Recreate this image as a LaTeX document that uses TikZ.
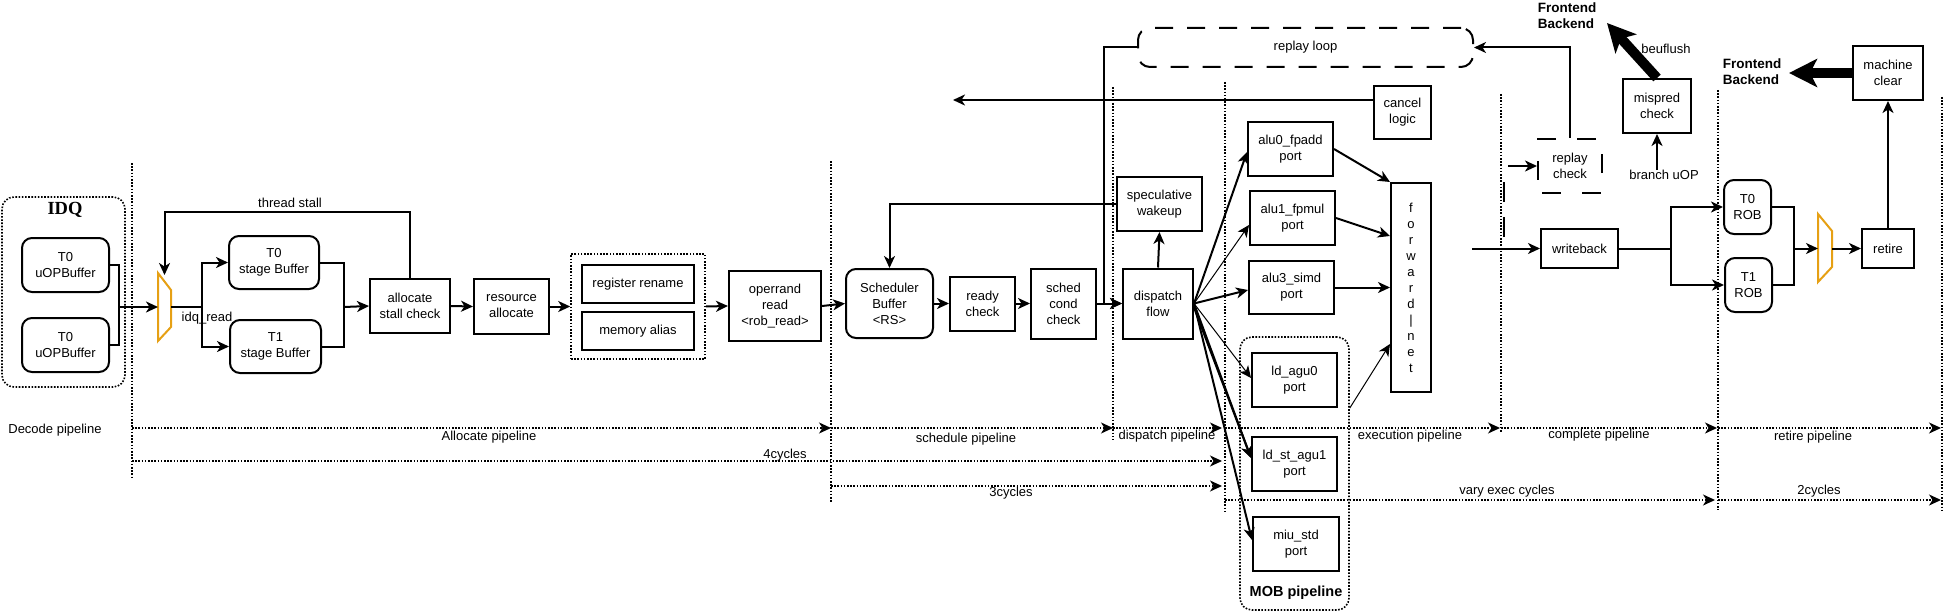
\documentclass[tikz,border=0pt]{standalone}
\usepackage{fontspec}
\setmainfont{Liberation Sans}
\newfontfamily\idqfont{Liberation Serif}
\usetikzlibrary{arrows.meta}

\definecolor{muxorange}{RGB}{230,160,20}

\tikzset{
  box/.style={draw,line width=2pt,inner sep=1pt,align=center,font=\fontsize{13}{16}\selectfont},
  rbox/.style={box,rounded corners=10pt},
  txt/.style={inner sep=0pt,align=center,font=\fontsize{13}{16}\selectfont},
  bold/.style={inner sep=0pt,align=left,font=\bfseries\fontsize{13.5}{16}\selectfont},
  grp/.style={draw,line width=1.6pt,dash pattern=on 1.6pt off 1.6pt,rounded corners=12pt},
  grpsq/.style={draw,line width=1.6pt,dash pattern=on 1.6pt off 1.6pt},
  dotline/.style={line width=1.6pt,dash pattern=on 1.6pt off 1.6pt},
  loopbox/.style={box,rounded corners=12pt,dash pattern=on 18pt off 14pt},
  chkbox/.style={box,dash pattern=on 19pt off 21pt,dash phase=-4pt},
  wire/.style={line width=2pt},
  arr/.style={wire,-{Stealth[length=12pt,width=11pt,inset=3.5pt]}},
  arrthin/.style={line width=1pt,-{Stealth[length=12pt,width=11pt,inset=3.5pt]}},
  pipe/.style={dotline,-{Stealth[length=12pt,width=11pt,inset=3.5pt]}},
  bigarr/.style={line width=10pt,-{Stealth[length=28pt,width=28pt,inset=7pt]}},
  mux/.style={draw=muxorange,line width=2pt},
}

\begin{document}
\begin{tikzpicture}[x=1pt,y=-1pt]
            \useasboundingbox (0,0) rectangle (1943,615);

            \draw[dotline] (132,163) -- (132,477);
            \draw[dotline] (831,161) -- (831,502);
            \draw[dotline] (1113,87) -- (1113,440);
            \draw[dotline] (1225,82) -- (1225,513);
            \draw[dotline] (1501,94) -- (1501,433);
            \draw[dotline] (1718,90) -- (1718,510);
            \draw[dotline] (1942,97) -- (1942,510);

            \node (idq) at (63.5,292) [grp,minimum width=123pt,minimum height=190pt] {};
            \node (idqlabel) at (65,210) [font={\idqfont\bfseries\fontsize{18.5}{20}\selectfont}] {IDQ};
            \node (uop0) at (65.5,265) [rbox,minimum width=87pt,minimum height=54pt] {T0\\uOPBuffer};
            \node (uop1) at (65.5,345) [rbox,minimum width=87pt,minimum height=54pt] {T0\\uOPBuffer};
            \coordinate (j1) at (119,307);

            \coordinate (mux1) at (164.5,307);
            \draw[mux] (158,273) -- (171,290) -- (171,327) -- (158,341) -- cycle;
            \coordinate (j2) at (202,307);
            \node (idqread) at (207,318) [txt] {idq\_read};

            \node (sb0) at (274,262.5) [rbox,minimum width=90pt,minimum height=53pt] {T0\\stage Buffer};
            \node (sb1) at (275.5,346.5) [rbox,minimum width=91pt,minimum height=53pt] {T1\\stage Buffer};
            \coordinate (j3) at (344,307);
            \node (alloc) at (410,306) [box,minimum width=80pt,minimum height=54pt] {allocate\\stall check};
            \node (stall) at (290,203) [txt] {thread stall};
            \node (res) at (511.5,306.5) [box,minimum width=75pt,minimum height=55pt] {resource\\allocate};
            \node (ren) at (638,306.5) [grpsq,minimum width=134pt,minimum height=105pt] {};
            \node (rename) at (638,284) [box,minimum width=112pt,minimum height=38pt] {register rename};
            \node (alias) at (638,331) [box,minimum width=112pt,minimum height=38pt] {memory alias};
            \node (oprd) at (775,306) [box,minimum width=92pt,minimum height=70pt] {operrand\\read\\<rob\_read>};

            \node (sched) at (889.5,303.5) [rbox,minimum width=87pt,minimum height=69pt] {Scheduler\\Buffer\\<RS>};
            \node (ready) at (982.5,303.5) [box,minimum width=65pt,minimum height=54pt] {ready\\check};
            \node (cond) at (1063.5,303.5) [box,minimum width=65pt,minimum height=70pt] {sched\\cond\\check};
            \node (disp) at (1158,303.5) [box,minimum width=70pt,minimum height=70pt] {dispatch\\flow};
            \node (spec) at (1159.5,204) [box,minimum width=85pt,minimum height=54pt] {speculative\\wakeup};
            \node (replay) at (1305.5,47.5) [loopbox,minimum width=335pt,minimum height=39pt] {replay loop};
            \node (cancel) at (1402.5,112.5) [box,minimum width=57pt,minimum height=53pt] {cancel\\logic};
            \coordinate (cancelend) at (953,100);
            \coordinate (jr) at (1104,303.5);

            \node (alu0) at (1290.5,149) [box,minimum width=85pt,minimum height=54pt] {alu0\_fpadd\\port};
            \node (alu1) at (1292.5,218) [box,minimum width=85pt,minimum height=54pt] {alu1\_fpmul\\port};
            \node (alu3) at (1291.5,287.5) [box,minimum width=85pt,minimum height=53pt] {alu3\_simd\\port};
            \node (mob) at (1294.5,473.5) [grp,minimum width=109pt,minimum height=273pt] {};
            \node (moblabel) at (1296,593) [font=\bfseries\fontsize{14.5}{16}\selectfont] {MOB pipeline};
            \node (ldagu0) at (1294.5,380) [box,minimum width=85pt,minimum height=54pt] {ld\_agu0\\port};
            \node (ldst) at (1294.5,464) [box,minimum width=85pt,minimum height=54pt] {ld\_st\_agu1\\port};
            \node (miustd) at (1296,544) [box,minimum width=86pt,minimum height=54pt] {miu\_std\\port};
            \node (fwd) at (1411,287.5) [box,minimum width=40pt,minimum height=209pt] {f\\o\\r\\w\\a\\r\\d\\|\\n\\e\\t};

            \node (rchk) at (1570,166) [chkbox,minimum width=64pt,minimum height=54pt] {replay\\check};
            \coordinate (rcin) at (1508,166);
            \draw[wire,dash pattern=on 20pt off 15pt] (1504,182) -- (1504,242);
            \node (wb) at (1579.5,248.5) [box,minimum width=77pt,minimum height=39pt] {writeback};
            \coordinate (wbin) at (1472,248.5);
            \coordinate (j4) at (1671,248.5);
            \node (mispred) at (1657,106) [box,minimum width=68pt,minimum height=54pt] {mispred\\check};
            \node (branch) at (1664,175) [txt] {branch uOP};
            \node (beuflush) at (1666,49) [txt] {beuflush};
            \node (fe1) at (1567,16) [bold] {Frontend\\Backend};
            \coordinate (fe1tip) at (1607,23);

            \node (rob0) at (1747.5,207) [rbox,minimum width=47pt,minimum height=54pt] {T0\\ROB};
            \node (rob1) at (1748.5,285) [rbox,minimum width=47pt,minimum height=54pt] {T1\\ROB};
            \coordinate (j5) at (1794,248.5);
            \coordinate (mux2) at (1825,248.5);
            \draw[mux] (1818,214) -- (1832,231) -- (1832,267) -- (1818,282) -- cycle;
            \node (retire) at (1888,248.5) [box,minimum width=52pt,minimum height=39pt] {retire};
            \node (machine) at (1888,73) [box,minimum width=70pt,minimum height=54pt] {machine\\clear};
            \node (fe2) at (1752,72) [bold] {Frontend\\Backend};
            \coordinate (fe2tip) at (1789,73);

            \draw[wire] (uop0.east) -| (j1) |- (uop1.east);
            \draw[arr] (j1) -- ([xshift=-6.5pt]mux1);
            \draw[wire] ([xshift=6.5pt]mux1) -- (j2);
            \draw[arr] (j2) |- (sb0.west);
            \draw[arr] (j2) |- (sb1.west);
            \draw[wire] (sb0.east) -| (j3) |- (sb1.east);
            \draw[arr] (j3) -- (alloc.west);
            \draw[arr] (alloc.north) -- ++(0,-66) -| ([yshift=32pt]mux1);
            \draw[arr] (alloc.east) -- (res.west);
            \draw[arr] (res.east) -- (ren.west);
            \draw[arr] (ren.east) -- (oprd.west);
            \draw[arr] (oprd.east) -- (sched.west);
            \draw[arr] (sched.east) -- (ready.west);
            \draw[arr] (ready.east) -- (cond.west);
            \draw[arr] (cond.east) -- (disp.west);
            \draw[arr] (replay.west) -| (jr) -- (disp.west);
            \draw[arr] (disp.north) -- (spec.south);
            \draw[arr] (spec.west) -| (sched.north);
            \draw[arr] ([yshift=12.5pt]cancel.west) -- (cancelend);

            \draw[arr] (disp.east) -- ([yshift=-3pt]alu0.west);
            \draw[arrthin] (disp.east) -- ([yshift=-7pt]alu1.west);
            \draw[arr] (disp.east) -- ([yshift=-2.5pt]alu3.west);
            \draw[arrthin] (disp.east) -- ([yshift=2pt]ldagu0.west);
            \draw[arr] (disp.east) -- ([yshift=6pt]ldst.west);
            \draw[arr] ([yshift=-4pt]disp.east) -- ([yshift=6pt]ldst.west);
            \draw[arr] (disp.east) -- ([yshift=4pt]miustd.west);
            \draw[arr] (alu0.east) -- (fwd.north west);
            \draw[arr] (alu1.east) -- ([yshift=51.5pt]fwd.west);
            \draw[arr] (alu3.east) -- (fwd.west);
            \draw[arrthin] (mob.east |- ldagu0.south) -- ([yshift=-56.5pt]fwd.west);

            \draw[arr] (rcin) -- (rchk.west);
            \draw[arr] (rchk.north) |- (replay.east);
            \draw[arr] (wbin) -- (wb.west);
            \draw[wire] (wb.east) -- (j4);
            \draw[arr] (j4) |- (rob0.west);
            \draw[arr] (j4) |- (rob1.west);
            \draw[arr] (branch.north -| mispred.south) -- (mispred.south);
            \draw[bigarr] (mispred.north) -- (fe1tip);
            \draw[wire] (rob0.east) -| (j5) |- (rob1.east);
            \draw[arr] (j5) -- ([xshift=-7pt]mux2);
            \draw[arr] ([xshift=7pt]mux2) -- (retire.west);
            \draw[arr] (retire.north) -- (machine.south);
            \draw[bigarr] (machine.west) -- (fe2tip);

            \coordinate (p0) at (132,428);
            \coordinate (p1) at (831,428);
            \coordinate (p2) at (1113,428);
            \coordinate (p3) at (1222,428);
            \coordinate (p4) at (1225,428);
            \coordinate (p5) at (1500,428);
            \coordinate (p6) at (1501,428);
            \coordinate (p7) at (1717,428);
            \coordinate (p8) at (1718,428);
            \coordinate (p9) at (1941,428);
            \coordinate (c0) at (132,461);
            \coordinate (c1) at (1222,461);
            \coordinate (c2) at (831,486);
            \coordinate (c3) at (1222,486);
            \coordinate (c4) at (1225,500);
            \coordinate (c5) at (1715,500);
            \coordinate (c6) at (1718,500);
            \coordinate (c7) at (1941,500);

            \draw[pipe] (p0) -- (p1);
            \draw[pipe] (p1) -- (p2);
            \draw[pipe] (p2) -- (p3);
            \draw[pipe] (p4) -- (p5);
            \draw[pipe] (p6) -- (p7);
            \draw[pipe] (p8) -- (p9);
            \draw[pipe] (c0) -- (c1);
            \draw[pipe] (c2) -- (c3);
            \draw[pipe] (c4) -- (c5);
            \draw[pipe] (c6) -- (c7);

            \node (ldec) at (55,430) [txt] {Decode pipeline};
            \node (lalloc) at (489,437) [txt] {Allocate pipeline};
            \node (lsched) at (966,439) [txt] {schedule pipeline};
            \node (ldisp) at (1167,436) [txt] {dispatch pipeline};
            \node (lexec) at (1410,436) [txt] {execution pipeline};
            \node (lcomp) at (1599,435) [txt] {complete pipeline};
            \node (lret) at (1813,437) [txt] {retire pipeline};
            \node (l4) at (785,455) [txt] {4cycles};
            \node (l3) at (1011,493) [txt] {3cycles};
            \node (lvary) at (1507,491) [txt] {vary exec cycles};
            \node (l2) at (1819,491) [txt] {2cycles};

        \end{tikzpicture}
\end{document}
